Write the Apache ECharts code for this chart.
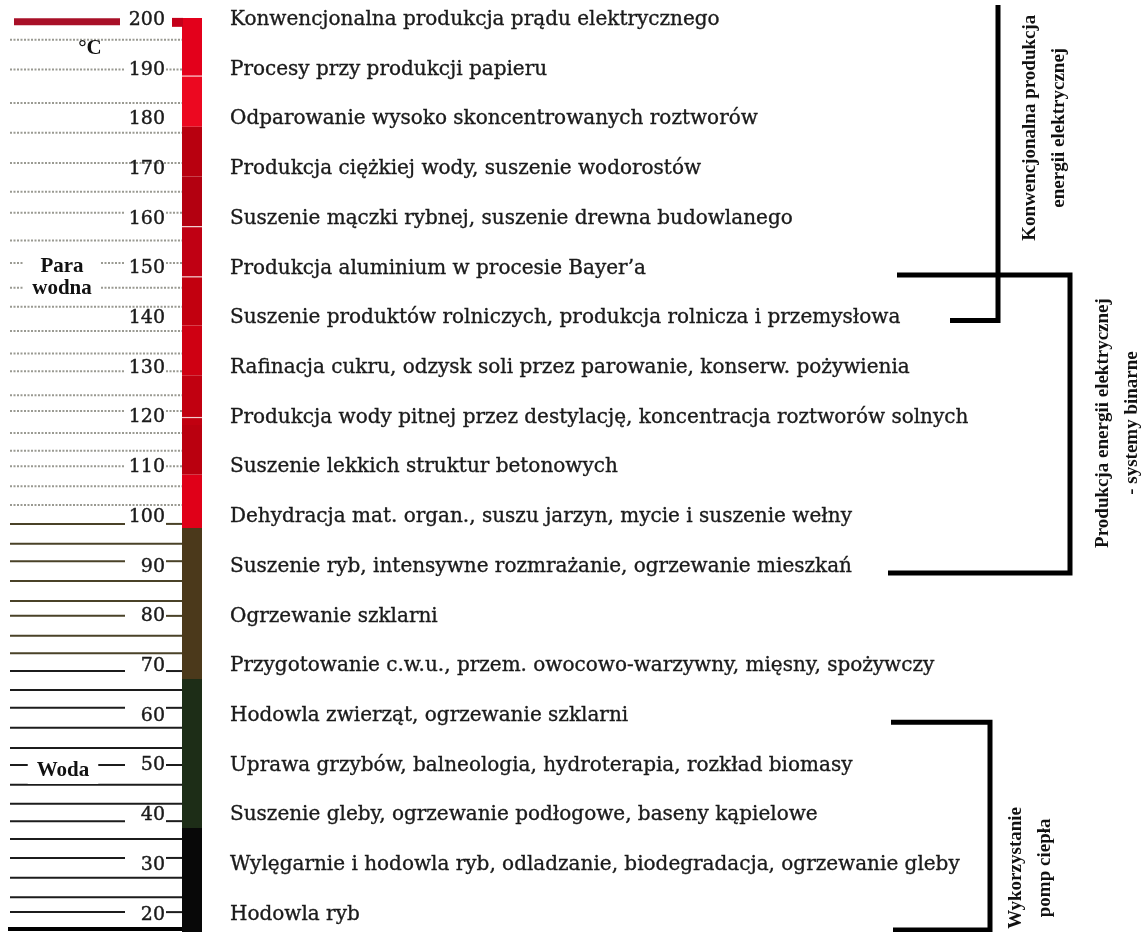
<!DOCTYPE html>
<html><head><meta charset="utf-8">
<script src="https://cdn.jsdelivr.net/npm/echarts@6/dist/echarts.min.js"></script>
<style>html,body{margin:0;padding:0;background:#fff}#c{width:1142px;height:932px}</style>
</head><body><div id="c"></div>
<script>
// ---- data ----
const temps = [200,190,180,170,160,150,140,130,120,110,100,90,80,70,60,50,40,30,20];
const uses = [
  "Konwencjonalna produkcja prądu elektrycznego",
  "Procesy przy produkcji papieru",
  "Odparowanie wysoko skoncentrowanych roztworów",
  "Produkcja ciężkiej wody, suszenie wodorostów",
  "Suszenie mączki rybnej, suszenie drewna budowlanego",
  "Produkcja aluminium w procesie Bayer’a",
  "Suszenie produktów rolniczych, produkcja rolnicza i przemysłowa",
  "Rafinacja cukru, odzysk soli przez parowanie, konserw. pożywienia",
  "Produkcja wody pitnej przez destylację, koncentracja roztworów solnych",
  "Suszenie lekkich struktur betonowych",
  "Dehydracja mat. organ., suszu jarzyn, mycie i suszenie wełny",
  "Suszenie ryb, intensywne rozmrażanie, ogrzewanie mieszkań",
  "Ogrzewanie szklarni",
  "Przygotowanie c.w.u., przem. owocowo-warzywny, mięsny, spożywczy",
  "Hodowla zwierząt, ogrzewanie szklarni",
  "Uprawa grzybów, balneologia, hydroterapia, rozkład biomasy",
  "Suszenie gleby, ogrzewanie podłogowe, baseny kąpielowe",
  "Wylęgarnie i hodowla ryb, odladzanie, biodegradacja, ogrzewanie gleby",
  "Hodowla ryb"
];
// colour bands of the thermometer column [upper T, lower T]
const bandTop    = [200.4,188.7,178.5,168.5,158.4,148.3,138.5,128.5,118.5,108.5,97.8,67.4,37.4];
const bandBottom = [188.7,178.5,168.5,158.4,148.3,138.5,128.5,118.5,108.5,97.8,67.4,37.4,16.5];
const separators = [188.7,158.4,148.3,120.0];
// scale lines
const fullLines  = [196.0,183.3,177.3,171.2,165.4,155.6,146.1,142.3,137.4,132.9,124.5,116.9,113.3,106.2,102.4,
                    94.6,87.1,83.1,76.1,72.6,65.2,57.6,53.5,46.1,42.3,35.2,27.4,23.5];
const shortLines = [190.0,161.2,151.1,129.3,121.3,110.2,98.6,91.1,80.1,69.0,61.6,50.1,38.8,31.4,20.5];
const topLineT = 199.6, bottomLineT = 17.1;
// groups [upper T, lower T]
const groupNames = [
  "Konwencjonalna produkcja\nenergii elektrycznej",
  "Produkcja energii elektrycznej\n- systemy binarne",
  "Wykorzystanie\npomp ciepła"
];
const groupTop    = [203, 148.7, 58.7];
const groupBottom = [139.5, 88.7, 16.9];
const groupLabelT = [178.3, 118.9, 29.4];
const stateNames = ["°C", "Para\nwodna", "Woda"];
const stateT     = [194.2, 148.1, 48.9];

// ---- styles / layout ----
const bandColors = ['#e3001b','#ec0820','#b8000f','#b30010','#c00013','#c2000f','#cf0012','#c10010','#ba000f','#e00018',
                    '#4b391b','#1d2d17','#080808'];
const BAR_X0 = 182, BAR_X1 = 202;
const serif = '"DejaVu Serif", "Liberation Serif", serif';
const bold = '"Liberation Serif", serif';

const chart = echarts.init(document.getElementById('c'), null, {renderer:'canvas'});

function bandRender(p, api){
  const i = p.dataIndex;
  const a = api.coord([BAR_X0, bandTop[i]]), b = api.coord([BAR_X1, bandBottom[i]]);
  return {type:'rect', shape:{x:a[0], y:a[1], width:b[0]-a[0], height:b[1]-a[1]}, style:{fill:bandColors[i]}};
}
function sepRender(p, api){
  const a = api.coord([BAR_X0, separators[p.dataIndex]]);
  return {type:'line', shape:{x1:a[0], y1:a[1], x2:a[0]+(BAR_X1-BAR_X0), y2:a[1]}, style:{stroke:'rgba(255,255,255,0.8)', lineWidth:1.2}};
}
function lineStyle(t){
  if (t > 100) return {stroke:'#9a9a92', lineWidth:2, lineDash:[2,1.5]};
  if (t > 70) return {stroke:'#4a4228', lineWidth:2};
  return {stroke:'#1c1c1c', lineWidth:2};
}
function fullRender(p, api){
  const t = fullLines[p.dataIndex];
  const a = api.coord([10, t]), b = api.coord([BAR_X0, t]);
  return {type:'line', shape:{x1:a[0], y1:a[1], x2:b[0], y2:b[1]}, style:lineStyle(t)};
}
function shortRender(p, api){
  const t = shortLines[p.dataIndex];
  const a = api.coord([10, t]), b = api.coord([125, t]);
  const c = api.coord([166, t]), d = api.coord([BAR_X0, t]);
  return {type:'group', children:[
    {type:'line', shape:{x1:a[0], y1:a[1], x2:b[0], y2:b[1]}, style:lineStyle(t)},
    {type:'line', shape:{x1:c[0], y1:c[1], x2:d[0], y2:d[1]}, style:lineStyle(t)}
  ]};
}
function edgeRender(p, api){
  const a = api.coord([14, topLineT]), b = api.coord([120, topLineT]);
  const c = api.coord([8, bottomLineT]), d = api.coord([BAR_X0, bottomLineT]);
  const e = api.coord([172, 200.4]), f = api.coord([BAR_X0+1, 198.6]);
  return {type:'group', children:[
    {type:'line', shape:{x1:a[0], y1:a[1], x2:b[0], y2:b[1]}, style:{stroke:'#a81028', lineWidth:7}},
    {type:'line', shape:{x1:c[0], y1:c[1], x2:d[0], y2:d[1]}, style:{stroke:'#000', lineWidth:4}},
    {type:'rect', shape:{x:e[0], y:e[1], width:f[0]-e[0], height:f[1]-e[1]}, style:{fill:'#c4001a'}}
  ]};
}
function tickLabelRender(p, api){
  const a = api.coord([165, temps[p.dataIndex]]);
  return {type:'text', x:a[0], y:a[1], style:{text:String(temps[p.dataIndex]), font:'19px '+serif, fill:'#1a1a1a',
    stroke:'#1a1a1a', lineWidth:0.4, align:'right', verticalAlign:'middle'}};
}
function useRender(p, api){
  const a = api.coord([230, temps[p.dataIndex]]);
  return {type:'text', x:a[0], y:a[1], style:{text:uses[p.dataIndex], font:'20px '+serif, fill:'#1a1a1a',
    stroke:'#1a1a1a', lineWidth:0.35, align:'left', verticalAlign:'middle'}};
}
const stateX = [90, 62, 63];
function stateRender(p, api){
  const i = p.dataIndex;
  const a = api.coord([stateX[i], stateT[i]]);
  return {type:'text', x:a[0], y:a[1], style:{text:stateNames[i], font:'bold 21px '+bold, fill:'#111', align:'center', verticalAlign:'middle',
    lineHeight:22, backgroundColor: i>0 ? '#fff' : null, padding: i>0 ? [2,9,2,9] : 0}};
}
const brX = [[950,998],[897,1070,888],[891,990,893]];
const labX = [1045, 1118, 1031];
function groupRender(p, api){
  const i = p.dataIndex;
  const top = groupTop[i], bot = groupBottom[i];
  let pts;
  if (i === 0) pts = [api.coord([998, top]), api.coord([998, bot]), api.coord([950, bot])];
  else pts = [api.coord([brX[i][0], top]), api.coord([brX[i][1], top]), api.coord([brX[i][1], bot]), api.coord([brX[i][2], bot])];
  const m = api.coord([labX[i], groupLabelT[i]]);
  return {type:'group', children:[
    {type:'polyline', shape:{points:pts}, style:{stroke:'#000', lineWidth:5, fill:null, lineJoin:'miter'}},
    {type:'text', x:m[0], y:m[1], rotation:Math.PI/2, scaleX:1.0, scaleY:1.0,
      style:{text:groupNames[i], font:'bold 19px '+bold, fill:'#111', align:'center', verticalAlign:'middle', lineHeight:29}}
  ]};
}

const idx = n => Array.from({length:n}, (_, i) => [i, 0]);
const cs = (name, n, fn, z) => ({type:'custom', name, data:idx(n), renderItem:fn, z, clip:false, silent:true, animation:false});

chart.setOption({
  animation:false,
  grid:{left:0, right:0, top:0, bottom:0},
  xAxis:{type:'value', min:0, max:1142, show:false},
  yAxis:{type:'value', min:16.5, max:204, show:false},
  series:[
    cs('full', fullLines.length, fullRender, 1),
    cs('short', shortLines.length, shortRender, 1),
    cs('bands', bandTop.length, bandRender, 2),
    cs('seps', separators.length, sepRender, 3),
    cs('edges', 1, edgeRender, 4),
    cs('ticks', temps.length, tickLabelRender, 5),
    cs('uses', uses.length, useRender, 5),
    cs('states', stateNames.length, stateRender, 6),
    cs('groups', groupNames.length, groupRender, 6)
  ]
});
</script></body></html>
